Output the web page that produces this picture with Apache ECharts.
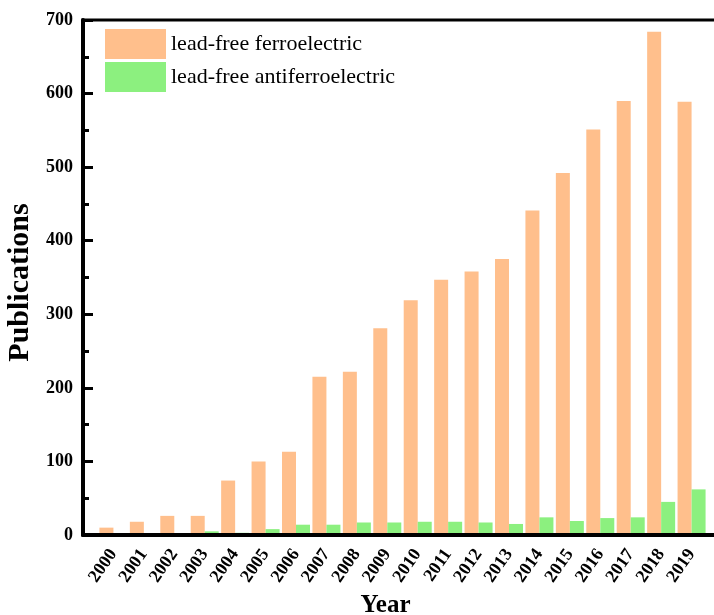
<!DOCTYPE html>
<html><head><meta charset="utf-8">
<script src="https://cdn.jsdelivr.net/npm/echarts@6/dist/echarts.min.js"></script>
<style>html,body{margin:0;padding:0;background:#fff}#c{width:714px;height:615px}</style>
</head><body><div id="c"></div>
<script>
const years = [2000,2001,2002,2003,2004,2005,2006,2007,2008,2009,2010,2011,2012,2013,2014,2015,2016,2017,2018,2019];
const ferro = [10,18,26,26,74,100,113,215,222,281,319,347,358,375,441,492,551,590,684,589];
const antiferro = [0,0,0,5,3,8,14,14,17,17,18,18,17,15,24,19,23,24,45,62];
const seriesNames = ['lead-free ferroelectric','lead-free antiferroelectric'];
const yTicks = {min:0, max:700, interval:100};

const font = 'Liberation Serif';
const chart = echarts.init(document.getElementById('c'));
chart.setOption({
  animation:false,
  backgroundColor:'#fff',
  grid:{left:83, right:-8, top:20, bottom:80, outerBoundsMode:'none', containLabel:false,
    show:true, borderColor:'#000', borderWidth:3, backgroundColor:'transparent'},
  legend:{
    left:100, top:24, orient:'vertical', itemWidth:61, itemHeight:30, itemGap:3,
    textStyle:{fontFamily:font, fontSize:22, color:'#000'},
    data:seriesNames.map(n=>({name:n, icon:'rect'}))
  },
  xAxis:{
    type:'value', min:1999, max:2020, interval:1, z:5,
    axisLine:{show:true, onZero:false, lineStyle:{color:'#000', width:4}},
    axisTick:{show:false},
    splitLine:{show:false},
    axisLabel:{rotate:55, margin:16, fontFamily:font, fontWeight:'bold', fontSize:18, color:'#000',
      formatter:v=> years.indexOf(v)>=0 ? String(v) : ''},
    name:'Year', nameLocation:'middle', nameGap:58,
    nameTextStyle:{fontFamily:font, fontWeight:'bold', fontSize:25, color:'#000', padding:[0,34,0,0]}
  },
  yAxis:{
    type:'value', min:yTicks.min, max:yTicks.max, interval:yTicks.interval, z:5,
    axisLine:{show:true, lineStyle:{color:'#000', width:4}},
    axisTick:{show:true, inside:true, length:10, lineStyle:{color:'#000', width:3}},
    minorTick:{show:true, splitNumber:2, length:6, lineStyle:{color:'#000', width:3}},
    splitLine:{show:false},
    axisLabel:{margin:10, fontFamily:font, fontWeight:'bold', fontSize:18, color:'#000'},
    name:'Publications', nameLocation:'middle', nameGap:43, nameRotate:90,
    nameTextStyle:{fontFamily:font, fontWeight:'bold', fontSize:30, color:'#000', padding:[0,10,0,0]}
  },
  series:[
    {name:seriesNames[0], type:'bar', barWidth:14, barGap:'0%',
      itemStyle:{color:'#FFBF8C', borderWidth:0},
      data:years.map((y,i)=>[y, ferro[i]])},
    {name:seriesNames[1], type:'bar', barWidth:14, barGap:'0%',
      itemStyle:{color:'#8CF07F', borderWidth:0},
      data:years.map((y,i)=>[y, antiferro[i]])}
  ]
});
</script></body></html>
